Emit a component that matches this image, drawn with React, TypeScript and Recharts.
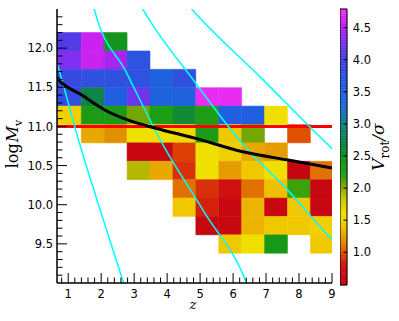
import React from "react";
import { ComposedChart, XAxis, YAxis, Line, ReferenceArea, ReferenceLine } from "recharts";

// bin edges of the 2D histogram
const zEdges = [0.66, 1.395, 2.09, 2.785, 3.48, 4.175, 4.87, 5.565, 6.26, 6.955, 7.65, 8.345, 9.0];
// logM edges, top row first
const mEdges = [12.2, 11.965, 11.73, 11.495, 11.26, 11.025, 10.79, 10.555, 10.32, 10.085, 9.85, 9.615, 9.38];

const N = null;
// Vrot/sigma per cell, rows from the top, columns left to right
const vrotGrid: (number | null)[][] = [
  [4.1, 4.6, 2.4, N, N, N, N, N, N, N, N, N],
  [4.3, 4.6, 4.45, 3.7, N, N, N, N, N, N, N, N],
  [3.85, 3.75, 3.75, 3.7, 3.45, 3.75, N, N, N, N, N, N],
  [3.8, 2.7, 3.5, 4.2, 3.45, 3.45, 4.75, 4.75, N, N, N, N],
  [1.5, 2.3, 2.3, 2.05, 2.25, 2.6, 2.25, 3.5, 3.5, 1.6, N, N],
  [N, 1.3, 1.2, 1.6, 1.6, 1.55, 2.3, 1.45, 2.05, N, 1.0, N],
  [N, N, N, 0.65, 0.65, 0.95, 1.6, 1.5, 1.3, 1.25, N, N],
  [N, N, N, 1.9, 1.3, 0.9, 1.6, 1.25, 1.45, 1.6, 0.6, 1.1],
  [N, N, N, N, N, 1.1, 0.9, 0.8, 1.1, 1.4, 2.15, 0.65],
  [N, N, N, N, N, 1.45, 0.85, 0.65, 1.35, 0.65, 1.45, 0.65],
  [N, N, N, N, N, N, 0.65, 0.65, 1.35, 1.45, 1.45, 1.5],
  [N, N, N, N, N, N, N, 1.45, 1.6, 2.35, N, 1.45],
];

// cyan curves
const cyanA = [
  { z: 0.45, m: 12.08 }, { z: 0.68, m: 11.78 }, { z: 1.31, m: 10.83 },
  { z: 1.98, m: 9.92 }, { z: 2.68, m: 9.0 }, { z: 2.9, m: 8.7 },
];
const cyanB = [
  { z: 1.7, m: 12.65 }, { z: 1.795, m: 12.49 }, { z: 2.75, m: 11.7 },
  { z: 3.88, m: 10.76 }, { z: 5.15, m: 9.89 }, { z: 6.41, m: 9.0 }, { z: 6.5, m: 8.9 },
];
const cyanC = [
  { z: 3.1, m: 12.62 }, { z: 3.275, m: 12.49 }, { z: 4.8, m: 11.59 },
  { z: 6.32, m: 10.76 }, { z: 7.67, m: 10.18 }, { z: 8.99, m: 9.56 }, { z: 9.3, m: 9.43 },
];
const cyanD = [
  { z: 4.6, m: 12.57 }, { z: 4.765, m: 12.49 }, { z: 6.85, m: 11.62 },
  { z: 8.994, m: 10.72 }, { z: 9.3, m: 10.6 },
];
const blackCurve = [
  { z: 0.66, m: 11.62 }, { z: 0.7, m: 11.6 }, { z: 1.41, m: 11.4 }, { z: 2.11, m: 11.21 },
  { z: 2.82, m: 11.08 }, { z: 3.63, m: 10.98 }, { z: 4.84, m: 10.85 }, { z: 6.26, m: 10.68 },
  { z: 7.67, m: 10.57 }, { z: 9.0, m: 10.47 },
];
const redLevel = 11.0;

const cbMajor = [1.0, 1.5, 2.0, 2.5, 3.0, 3.5, 4.0, 4.5];

const zTicks: number[] = [];
for (let i = 4; i <= 45; i++) zTicks.push(Math.round(i * 2) / 10);
const mTicks: number[] = [];
for (let i = 91; i <= 124; i++) mTicks.push(i / 10);

const cbMin = 0.49;
const cbMax = 4.79;

// colormap stops (value, colour)
const cmapStops: [number, string][] = [
  [0.49, "#c00010"], [0.8, "#d01010"], [1.0, "#e05000"], [1.2, "#e09000"],
  [1.4, "#f0c000"], [1.6, "#f0e000"], [1.85, "#c8c000"], [2.0, "#90a800"],
  [2.2, "#20a010"], [2.5, "#109020"], [2.75, "#108050"], [3.0, "#108080"],
  [3.2, "#1870c8"], [3.5, "#2060e0"], [4.0, "#4040e0"], [4.3, "#8030f0"],
  [4.55, "#c020f0"], [4.79, "#f030f0"],
];

const hex = (c: string) => [1, 3, 5].map((i) => parseInt(c.slice(i, i + 2), 16));
function cmap(v: number) {
  if (v <= cmapStops[0][0]) return cmapStops[0][1];
  for (let i = 1; i < cmapStops.length; i++) {
    const [v1, c1] = cmapStops[i];
    const [v0, c0] = cmapStops[i - 1];
    if (v <= v1) {
      const t = (v - v0) / (v1 - v0);
      const a = hex(c0), b = hex(c1);
      const rgb = a.map((x, k) => Math.round(x + (b[k] - x) * t));
      return `rgb(${rgb.join(",")})`;
    }
  }
  return cmapStops[cmapStops.length - 1][1];
}

const cells: { z1: number; z2: number; m1: number; m2: number; v: number }[] = [];
vrotGrid.forEach((row, r) =>
  row.forEach((v, c) => {
    if (v == null) return;
    cells.push({ z1: zEdges[c], z2: zEdges[c + 1], m1: mEdges[r + 1], m2: mEdges[r], v });
  })
);

// colourbar strips
const cbStep = 0.025;
const cbStrips: { y1: number; y2: number }[] = [];
for (let y = cbMin; y < cbMax - 1e-9; y += cbStep) cbStrips.push({ y1: y, y2: Math.min(y + cbStep, cbMax) });
const cbData = [{ x: 0 }, { x: 1 }];

const tickFont = { fontFamily: "DejaVu Sans", fontSize: 11.5, fill: "#000" };
const isInt = (v: number) => Math.abs(v - Math.round(v)) < 1e-6;
const isHalf = (v: number) => Math.abs(v * 2 - Math.round(v * 2)) < 1e-6;

const BottomTick = (p: any) => {
  const v = p.payload.value;
  const major = isInt(v);
  return (
    <g>
      <line x1={p.x} y1={p.y} x2={p.x} y2={p.y - (major ? 10 : 5.5)} stroke="#000" strokeWidth={1} />
      {major && (
        <text x={p.x} y={p.y + 15.3} textAnchor="middle" {...tickFont}>
          {v}
        </text>
      )}
    </g>
  );
};
const TopTick = (p: any) => {
  const major = isInt(p.payload.value);
  return <line x1={p.x} y1={p.y} x2={p.x} y2={p.y + (major ? 10 : 5.5)} stroke="#000" strokeWidth={1} />;
};
const LeftTick = (p: any) => {
  const v = p.payload.value;
  const major = isHalf(v);
  return (
    <g>
      <line x1={p.x} y1={p.y} x2={p.x + (major ? 10 : 5.5)} y2={p.y} stroke="#000" strokeWidth={1} />
      {major && (
        <text x={p.x - 4} y={p.y} dy="0.36em" textAnchor="end" {...tickFont}>
          {v.toFixed(1)}
        </text>
      )}
    </g>
  );
};
const RightTick = (p: any) => {
  const major = isHalf(p.payload.value);
  return <line x1={p.x} y1={p.y} x2={p.x - (major ? 10 : 5.5)} y2={p.y} stroke="#000" strokeWidth={1} />;
};
const CbTick = (p: any) => (
  <g>
    <line x1={p.x} y1={p.y} x2={p.x - 3.5} y2={p.y} stroke="#000" strokeWidth={1} />
    <text x={p.x + 5.7} y={p.y} dy="0.36em" textAnchor="start" {...tickFont}>
      {p.payload.value.toFixed(1)}
    </text>
  </g>
);

const axisStyle = { stroke: "#000", strokeWidth: 1.5 };
const serif = "DejaVu Serif";

export default function App() {
  return (
    <div style={{ position: "absolute", left: 0, top: 0, width: 399, height: 321, background: "#fff" }}>
      <div style={{ position: "absolute", left: 0, top: 0 }}>
        <ComposedChart width={399} height={321} margin={{ top: 9, right: 67, bottom: 0, left: 0 }}>
          <XAxis
            type="number" dataKey="z" domain={[0.66, 9]} allowDataOverflow
            ticks={zTicks} interval={0} tickSize={0} tickMargin={0} tick={BottomTick}
            height={38} axisLine={axisStyle} tickLine={false}
          />
          <XAxis
            xAxisId="top" orientation="top" type="number" domain={[0.66, 9]} allowDataOverflow
            ticks={zTicks} interval={0} tickSize={0} tickMargin={0} tick={TopTick}
            height={0} axisLine={axisStyle} tickLine={false}
          />
          <YAxis
            type="number" domain={[9.0, 12.5]} allowDataOverflow
            ticks={mTicks} interval={0} tickSize={0} tickMargin={0} tick={LeftTick}
            width={57} axisLine={axisStyle} tickLine={false}
          />
          <YAxis
            yAxisId="right" orientation="right" type="number" domain={[9.0, 12.5]} allowDataOverflow
            ticks={mTicks} interval={0} tickSize={0} tickMargin={0} tick={RightTick}
            width={0} axisLine={axisStyle} tickLine={false}
          />
          {cells.map((c, i) => (
            <ReferenceArea
              key={i} x1={c.z1} x2={c.z2} y1={c.m1} y2={c.m2}
              fill={cmap(c.v)} fillOpacity={1} stroke={cmap(c.v)} strokeWidth={0.5} ifOverflow="hidden"
            />
          ))}
          <ReferenceLine y={redLevel} stroke="#ff0000" strokeWidth={3} />
          {[cyanA, cyanB, cyanC, cyanD].map((d, i) => (
            <Line
              key={i} data={d} dataKey="m" type="monotone" stroke="#00ffff" strokeWidth={1.5}
              dot={false} activeDot={false} isAnimationActive={false}
            />
          ))}
          <Line
            data={blackCurve} dataKey="m" type="monotone" stroke="#000" strokeWidth={3}
            dot={false} activeDot={false} isAnimationActive={false}
          />
          <text
            transform="translate(18,144) rotate(-90)" x={0} y={0} textAnchor="middle"
            fontFamily={serif} fontSize={16} fill="#000"
          >
            <tspan>log</tspan>
            <tspan fontStyle="italic" dx={1}>M</tspan>
            <tspan fontSize={11} dy={4}>v</tspan>
          </text>
          <text x={193} y={309} textAnchor="middle" fontFamily={serif} fontStyle="italic" fontSize={13.5} fill="#000">
            z
          </text>
        </ComposedChart>
      </div>
      <div style={{ position: "absolute", left: 340, top: 0 }}>
        <ComposedChart data={cbData} width={59} height={321} margin={{ top: 9, right: 0, bottom: 36, left: 0 }}>
          <XAxis type="number" dataKey="x" domain={[0, 1]} hide />
          <YAxis
            orientation="right" type="number" domain={[cbMin, cbMax]} allowDataOverflow
            ticks={cbMajor} interval={0} tickSize={0} tickMargin={0} tick={CbTick}
            width={52} axisLine={false} tickLine={false}
          />
          {cbStrips.map((s, i) => (
            <ReferenceArea
              key={i} x1={0} x2={1} y1={s.y1} y2={s.y2}
              fill={cmap((s.y1 + s.y2) / 2)} fillOpacity={1} stroke={cmap((s.y1 + s.y2) / 2)} strokeWidth={0.5}
            />
          ))}
          <ReferenceArea x1={0} x2={1} y1={cbMin} y2={cbMax} fill="none" stroke="#000" strokeWidth={1} />
          <text
            transform="translate(44,147) rotate(-90)" x={0} y={0} textAnchor="middle"
            fontFamily={serif} fontSize={17} fill="#000"
          >
            <tspan fontStyle="italic">V</tspan>
            <tspan fontSize={12} dy={5}>rot</tspan>
            <tspan fontStyle="italic" dy={-5}>/σ</tspan>
          </text>
        </ComposedChart>
      </div>
    </div>
  );
}
